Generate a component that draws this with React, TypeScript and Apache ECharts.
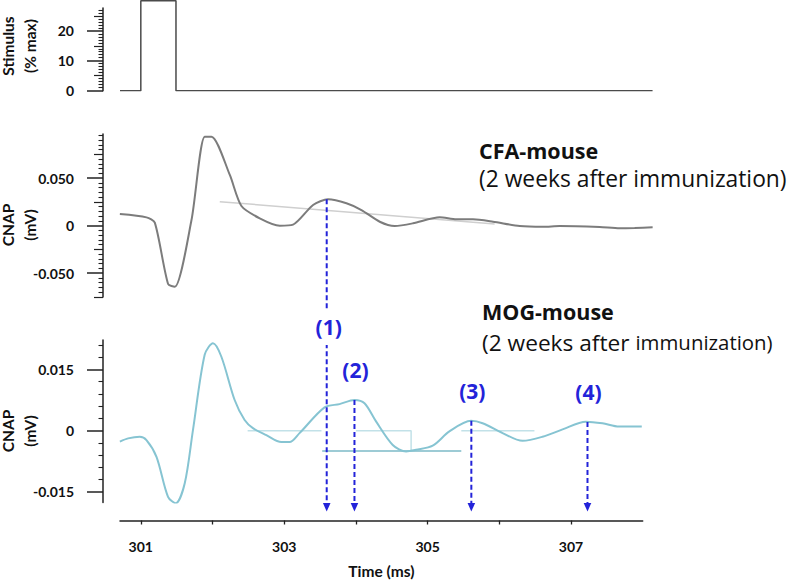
import React, { useEffect, useRef } from "react";
import * as echarts from "echarts";

// ---------- data ----------
const STIM_T = [300.71, 301.0, 301.0, 301.49, 301.49, 308.13];
const STIM_V = [0, 0, 30, 30, 0, 0];

const CFA_T = [300.708, 301.079, 301.195, 301.38, 301.474, 301.706, 301.891, 301.985, 302.24, 302.402, 302.657, 302.936, 303.121, 303.4, 303.609, 303.865, 304.074, 304.329, 304.538, 304.792, 305.164, 305.397, 305.628, 305.907, 306.279, 306.603, 306.836, 307.393, 307.671, 307.88, 308.131];
const CFA_V = [0.0123, 0.0088, 0.0032, -0.0614, -0.0642, 0.006, 0.0937, 0.0937, 0.0534, 0.0207, 0.0078, 0.0, 0.0011, 0.0218, 0.0278, 0.0236, 0.0165, 0.0042, -0.0003, 0.0025, 0.0088, 0.0067, 0.0067, 0.0042, -0.0003, -0.0011, -0.0003, -0.0014, -0.0027, -0.0024, -0.0017];

const CFA_BASE_T = [302.1, 305.93];
const CFA_BASE_V = [0.0253, 0.0018];

const MOG_T = [300.708, 300.823, 300.986, 301.079, 301.219, 301.38, 301.487, 301.613, 301.728, 301.891, 302.007, 302.124, 302.309, 302.448, 302.564, 302.751, 302.96, 303.075, 303.214, 303.563, 303.772, 303.981, 304.12, 304.283, 304.514, 304.701, 304.84, 305.071, 305.304, 305.606, 305.767, 306.046, 306.325, 306.603, 306.882, 307.207, 307.439, 307.671, 307.987];
const MOG_V = [-0.0027, -0.0019, -0.0015, -0.0023, -0.0064, -0.0162, -0.0178, -0.0129, 0.0002, 0.0186, 0.0214, 0.0181, 0.0075, 0.0026, 0.0006, -0.0011, -0.0028, -0.0028, -0.0006, 0.0057, 0.0065, 0.0075, 0.0067, 0.0022, -0.0035, -0.0051, -0.0047, -0.0037, -0.0002, 0.0024, 0.0018, -0.0006, -0.0025, -0.0015, 0.0003, 0.0022, 0.0018, 0.001, 0.001];

// light reference lines in the MOG panel (null = break)
const MOG_REF_T = [302.49, 303.52, null, 304.0, 304.77, 304.77, null, 305.47, 306.49];
const MOG_REF_V = [0, 0, null, 0, 0, -0.005, null, 0, 0];
const MOG_BASE_T = [303.53, 305.47];
const MOG_BASE_V = [-0.005, -0.005];

const X_TICKS = [301, 302, 303, 304, 305, 306, 307];
const X_LABELS = [301, 303, 305, 307];

const STIM_MAJOR = [0, 10, 20];
const STIM_MEDIUM = [5, 15, 25];
const CFA_MAJOR = [-0.05, 0, 0.05];
const MOG_MAJOR = [-0.015, 0, 0.015];

const PEAK_T = [303.59, 303.98, 305.61, 307.23];
const PEAK_V = [0.0278, 0.0075, 0.0024, 0.0021];
const PEAK_LABELS = ["(1)", "(2)", "(3)", "(4)"];

// ---------- helpers ----------
const pairs = (t: (number | null)[], v: (number | null)[]) =>
  t.map((x, i) => (x === null ? ["-", "-"] : [x, v[i]]));

const stimMinor: number[] = [];
for (let k = 1; k <= 27; k++) if (k % 5 !== 0) stimMinor.push(k);
const cfaMinor: number[] = [];
const cfaMedium: number[] = [];
for (let k = -15; k <= 19; k++) {
  if (k % 5 !== 0) cfaMinor.push(k * 0.005);
  else if (k % 10 !== 0) cfaMedium.push(k * 0.005);
}
const mogMinor: number[] = [];
for (let k = -5; k <= 7; k++) if (k % 5 !== 0) mogMinor.push(k * 0.003);

const FONT = "Lato, 'Open Sans', sans-serif";
const TFONT = "'Open Sans', Lato, sans-serif";
const AXIS_COLOR = "#222";
const BLUE = "#2323d9";

export default function App() {
  const ref = useRef<HTMLDivElement>(null);

  useEffect(() => {
    if (!ref.current) return;
    const chart = echarts.init(ref.current, null, { renderer: "svg" });

    const X_MIN = 300.71;
    const STIM = { min: 0, max: 27.6 };
    const CFA = { min: -0.075, max: 0.0965 };
    const MOG = { min: -0.0176, max: 0.0222 };

    const yTrio = (gridIndex: number, lim: { min: number; max: number }, major: number[], medium: number[], minor: number[], fmt: (v: number) => string) => [
      {
        type: "value", gridIndex, min: lim.min, max: lim.max, offset: 17, position: "left",
        axisLine: { show: true, onZero: false, lineStyle: { color: AXIS_COLOR, width: 1.5 } },
        axisTick: { show: true, inside: false, length: 16, customValues: major, lineStyle: { color: AXIS_COLOR, width: 1.5 } },
        axisLabel: { show: true, customValues: major, margin: 29, formatter: fmt, color: "#111", fontFamily: FONT, fontWeight: "bold", fontSize: 14 },
        splitLine: { show: false },
      },
      {
        type: "value", gridIndex, min: lim.min, max: lim.max, offset: 17, position: "left",
        axisLine: { show: false, onZero: false },
        axisTick: { show: medium.length > 0, inside: false, length: 9, customValues: medium, lineStyle: { color: AXIS_COLOR, width: 1.2 } },
        axisLabel: { show: false },
        splitLine: { show: false },
      },
      {
        type: "value", gridIndex, min: lim.min, max: lim.max, offset: 17, position: "left",
        axisLine: { show: false, onZero: false },
        axisTick: { show: true, inside: false, length: 4.5, customValues: minor, lineStyle: { color: AXIS_COLOR, width: 1.1 } },
        axisLabel: { show: false },
        splitLine: { show: false },
      },
    ];

    const hidden = (gridIndex: number, min: number, max: number) => ({
      type: "value", gridIndex, min, max, show: false,
      axisLine: { show: false, onZero: false }, axisTick: { show: false }, axisLabel: { show: false }, splitLine: { show: false },
    });

    const option: any = {
      animation: false,
      backgroundColor: "#fff",
      grid: [
        { left: 120, top: 8, width: 534, height: 82.7 },
        { left: 120, top: 134, width: 534, height: 163 },
        { left: 120, top: 340, width: 522.7, height: 162.5 },
        // stimulus trace grid: same scale as grid 0, extended to 30 % so the pulse top is visible
        { left: 120, top: 0.7, width: 534, height: 90 },
      ],
      xAxis: [
        hidden(0, X_MIN, 308.15),
        hidden(1, X_MIN, 308.15),
        {
          type: "value", gridIndex: 2, min: X_MIN, max: 308.0, offset: 18, position: "bottom",
          axisLine: { show: true, onZero: false, lineStyle: { color: AXIS_COLOR, width: 1.5 } },
          axisTick: { show: true, inside: false, length: 4, customValues: X_TICKS, lineStyle: { color: AXIS_COLOR, width: 1.3 } },
          axisLabel: { show: true, customValues: X_LABELS, margin: 19, color: "#111", fontFamily: FONT, fontWeight: "bold", fontSize: 14 },
          splitLine: { show: false },
          name: "Time (ms)", nameLocation: "middle", nameGap: 42,
          nameTextStyle: { color: "#111", fontFamily: FONT, fontWeight: "bold", fontSize: 15.5 },
        },
        hidden(3, X_MIN, 308.15),
      ],
      yAxis: [
        ...yTrio(0, STIM, STIM_MAJOR, STIM_MEDIUM, stimMinor, (v) => String(v)),
        ...yTrio(1, CFA, CFA_MAJOR, cfaMedium, cfaMinor, (v) => (Math.abs(v) < 1e-9 ? "0" : v.toFixed(3))),
        ...yTrio(2, MOG, MOG_MAJOR, [], mogMinor, (v) => (Math.abs(v) < 1e-9 ? "0" : v.toFixed(3))),
        hidden(3, 0, 30),
      ],
      series: [
        {
          type: "line", xAxisIndex: 3, yAxisIndex: 9, data: pairs(STIM_T, STIM_V), showSymbol: false,
          lineStyle: { color: "#4a4a4a", width: 1.5 },
        },
        {
          type: "line", xAxisIndex: 1, yAxisIndex: 3, data: pairs(CFA_BASE_T, CFA_BASE_V), showSymbol: false,
          lineStyle: { color: "#cfcfcf", width: 1.5 },
        },
        {
          type: "line", xAxisIndex: 1, yAxisIndex: 3, data: pairs(CFA_T, CFA_V), showSymbol: false, smooth: 0.25,
          lineStyle: { color: "#7c7c7c", width: 2 },
        },
        {
          type: "line", xAxisIndex: 2, yAxisIndex: 6, data: pairs(MOG_REF_T, MOG_REF_V), showSymbol: false, connectNulls: false,
          lineStyle: { color: "#c2e1e8", width: 1.5 },
        },
        {
          type: "line", xAxisIndex: 2, yAxisIndex: 6, data: pairs(MOG_BASE_T, MOG_BASE_V), showSymbol: false,
          lineStyle: { color: "#9dcbd5", width: 2 },
        },
        {
          type: "line", xAxisIndex: 2, yAxisIndex: 6, data: pairs(MOG_T, MOG_V), showSymbol: false, smooth: 0.3,
          lineStyle: { color: "#86c4d2", width: 2 },
        },
      ],
    };

    chart.setOption(option);

    // arrows and labels, positioned through the chart's own scales
    const CFA_SERIES = 2;
    const MOG_SERIES = 5;
    const bottomPx = chart.convertToPixel({ seriesIndex: MOG_SERIES }, [X_MIN, MOG.min]) as number[];
    const tipY = bottomPx[1] + 9;
    const headH = 8.4;
    const headW = 3.8;

    const elements: any[] = [];
    PEAK_T.forEach((t, i) => {
      const p = chart.convertToPixel({ seriesIndex: i === 0 ? CFA_SERIES : MOG_SERIES }, [t, PEAK_V[i]]) as number[];
      const x = p[0];
      elements.push({
        type: "line", z: 50,
        shape: { x1: x, y1: p[1], x2: x, y2: tipY - headH },
        style: { stroke: BLUE, lineWidth: 2, lineDash: [5, 3] },
      });
      elements.push({
        type: "polygon", z: 50,
        shape: { points: [[x - headW, tipY - headH], [x + headW, tipY - headH], [x, tipY]] },
        style: { fill: BLUE },
      });
      const ly = i === 0 ? 327 : p[1] - 30;
      elements.push({
        type: "text", z: 60, x: x + (i === 0 ? 2 : 1), y: ly,
        style: {
          text: PEAK_LABELS[i], fill: BLUE, font: `bold 21px ${TFONT}`, align: "center", verticalAlign: "middle",
          lineHeight: 22,
          backgroundColor: i === 0 ? "#fff" : undefined, padding: i === 0 ? [7, 2] : 0,
        },
      });
    });

    // axis titles (rotated)
    const vTitle = (text: string, x: number, y: number) => ({
      type: "text", z: 60, x, y, rotation: Math.PI / 2,
      style: { text, fill: "#111", font: `bold 15.5px ${FONT}`, align: "center", verticalAlign: "middle", lineHeight: 16 },
    });
    elements.push(vTitle("Stimulus", 8, 46));
    elements.push(vTitle("(% max)", 29.5, 46));
    elements.push(vTitle("CNAP", 8, 225));
    elements.push(vTitle("(mV)", 29.5, 225));
    elements.push(vTitle("CNAP", 8, 431));
    elements.push(vTitle("(mV)", 29.5, 431));

    // panel titles
    elements.push({
      type: "text", z: 60, x: 479, y: 150.5,
      style: { text: "CFA-mouse", fill: "#111", font: `bold 21.5px ${TFONT}`, align: "left", verticalAlign: "middle", lineHeight: 22 },
    });
    elements.push({
      type: "text", z: 60, x: 479, y: 178.5,
      style: { text: "(2 weeks after immunization)", fill: "#111", font: `22.8px ${TFONT}`, align: "left", verticalAlign: "middle", lineHeight: 23 },
    });
    elements.push({
      type: "text", z: 60, x: 482, y: 311,
      style: { text: "MOG-mouse", fill: "#111", font: `bold 21.5px ${TFONT}`, align: "left", verticalAlign: "middle", lineHeight: 22 },
    });
    elements.push({
      type: "text", z: 60, x: 482, y: 342,
      style: {
        text: "{a|(2 weeks after }{b|immunization)}", fill: "#111", align: "left", verticalAlign: "middle",
        rich: {
          a: { fontFamily: TFONT, fontSize: 22.7, fill: "#111", lineHeight: 23 },
          b: { fontFamily: TFONT, fontSize: 20.4, fill: "#111", lineHeight: 23 },
        },
      },
    });

    chart.setOption({ graphic: { elements } });

    return () => chart.dispose();
  }, []);

  return <div ref={ref} style={{ position: "fixed", left: 0, top: 0, width: 787, height: 580 }} />;
}
